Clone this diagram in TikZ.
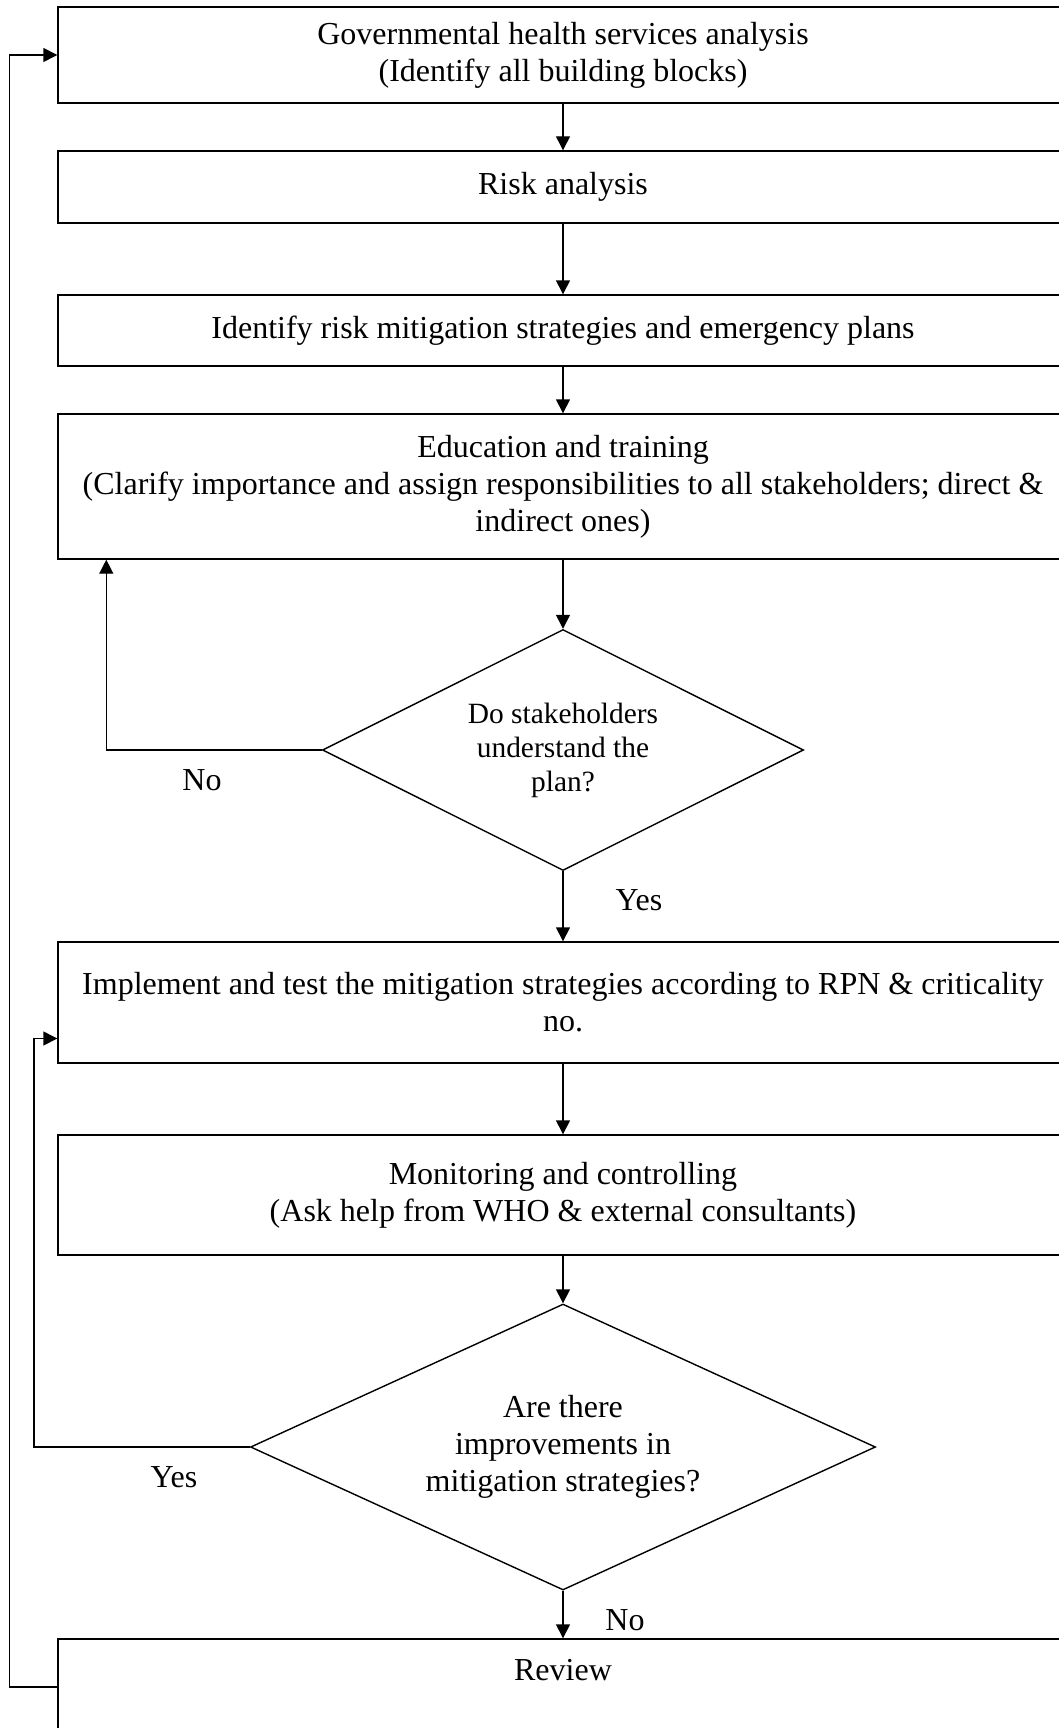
\documentclass[tikz,border=0pt]{standalone}
\usepackage{fontspec}
\setmainfont{Liberation Serif}
\usetikzlibrary{calc, shapes.geometric, arrows.meta}

\begin{document}
\begin{tikzpicture}[x=0.5pt, y=-0.5pt, line width=0.7pt, >={Triangle[length=7pt,width=7pt]}]
    % Define styles
    \tikzset{
        stepbox/.style={draw, rectangle, minimum width=505pt, inner sep=0pt, align=center, font=\fontsize{16pt}{18.5pt}\selectfont},
        query/.style={draw, diamond, aspect=2, inner sep=0pt, align=center, font=\fontsize{16pt}{18.5pt}\selectfont},
        answer/.style={font=\fontsize{16pt}{18.5pt}\selectfont}
    }

    % Fix the page size
    \useasboundingbox (0,0) rectangle (1059,1728);
    \clip (0,0) rectangle (1059,1728);

    % Define the centre line
    \def\midX{563}

    % Draw the steps
    \node[stepbox, minimum height=48pt] (gov) at (\midX,55) {Governmental health services analysis\\(Identify all building blocks)};
    \node[stepbox, minimum height=36pt] (risk) at (\midX,187) {Risk analysis};
    \node[stepbox, minimum height=35.5pt] (plans) at (\midX,330.5) {Identify risk mitigation strategies and emergency plans};
    \node[stepbox, minimum height=72.5pt] (edu) at (\midX,486.5) {Education and training\\(Clarify importance and assign responsibilities to all stakeholders; direct \&\\indirect ones)};
    \node[query, minimum width=240.5pt, minimum height=120.5pt, font=\fontsize{14.7pt}{17pt}\selectfont] (check1) at (\midX,750) {Do stakeholders\\understand the\\plan?};
    \node[stepbox, minimum height=60.5pt] (impl) at (\midX,1002.5) {Implement and test the mitigation strategies according to RPN \& criticality\\no.};
    \node[stepbox, minimum height=60pt] (monitor) at (\midX,1195) {Monitoring and controlling\\(Ask help from WHO \& external consultants)};
    \node[query, aspect=2.2, minimum width=312.5pt, minimum height=143pt] (check2) at (\midX,1447) {Are there\\improvements in\\mitigation strategies?};
    \node[stepbox, minimum height=48pt, text depth=17pt] (review) at (\midX,1687) {Review};

    % Draw the main flow
    \draw[->] (gov) -- (risk);
    \draw[->] (risk) -- (plans);
    \draw[->] (plans) -- (edu);
    \draw[->] (edu) -- (check1);
    \draw[->] (check1) -- (impl);
    \draw[->] (impl) -- (monitor);
    \draw[->] (monitor) -- (check2);
    \draw[->] (check2) -- (review);

    % Draw the loops back
    \draw[->] (check1.west) -| ($(edu.south west)+(49,0)$);
    \draw[->] (check2.west) -- ++(-216,0) |- ([yshift=-18pt]impl.west);
    \draw[->] (review.west) -- ++(-48,0) |- (gov.west);

    % Label the answers
    \node[answer] (noA) at (202,780) {No};
    \node[answer] (yesA) at (639,900) {Yes};
    \node[answer] (yesB) at (174,1477) {Yes};
    \node[answer] (noB) at (625,1620) {No};

\end{tikzpicture}
\end{document}
